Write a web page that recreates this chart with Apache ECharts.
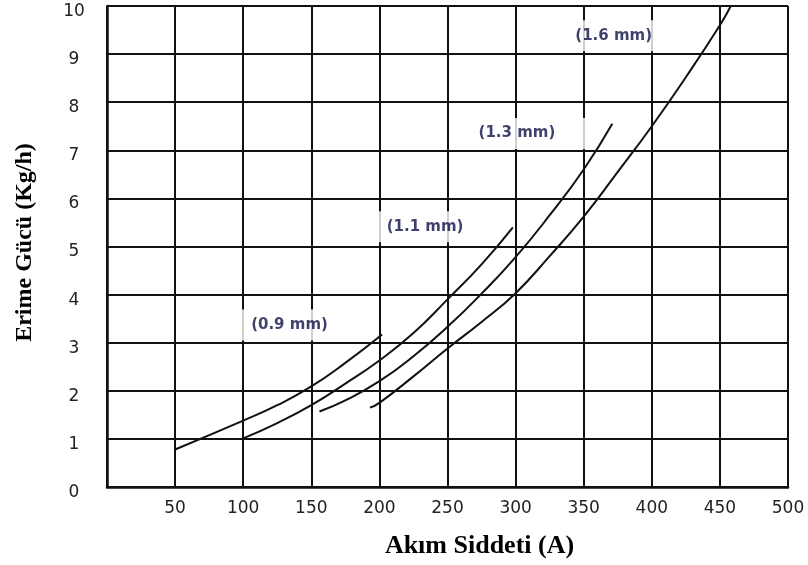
<!DOCTYPE html>
<html>
<head>
<meta charset="utf-8">
<script src="https://cdn.jsdelivr.net/npm/echarts@6/dist/echarts.min.js"></script>
<style>html,body{margin:0;padding:0;background:#fff}#c{width:808px;height:565px}</style>
</head>
<body>
<div id="c"></div>
<script>
// Curve data: [current (A), melting rate (kg/h)]
const wire09 = [[50,0.78],[100,1.38],[125,1.7],[150,2.09],[175,2.58],[202,3.17]];
const wire11 = [[100,1.01],[125,1.33],[150,1.7],[175,2.15],[200,2.63],[225,3.2],[250,3.9],[275,4.63],[298,5.4]];
const wire13 = [[156,1.57],[175,1.8],[200,2.2],[225,2.72],[250,3.33],[275,4.02],[300,4.78],[325,5.65],[350,6.6],[371,7.55]];
const wire16 = [[193,1.65],[200,1.75],[225,2.3],[250,2.88],[275,3.43],[300,4.03],[325,4.8],[350,5.62],[375,6.55],[400,7.5],[425,8.52],[450,9.6],[458,10.0]];

// Curve names and where their labels sit (data coordinates)
const labelTexts = ['(0.9 mm)','(1.1 mm)','(1.3 mm)','(1.6 mm)'];
const labelX = [134, 233.5, 301, 372];
const labelY = [3.37, 5.41, 7.35, 9.38];

const xMin = 0, xMax = 500, xStep = 50;
const yMin = 0, yMax = 10, yStep = 1;
const xTitle = 'Akım Siddeti (A)';
const yTitle = 'Erime Gücü (Kg/h)';

const chart = echarts.init(document.getElementById('c'), null, {renderer:'canvas'});

const lineStyle = {color:'#111', width:2};
const curves = [wire09, wire11, wire13, wire16].map((d, i) => ({
  type:'line', name: labelTexts[i], data: d, smooth: 0.5, symbol:'none', z: 4,
  lineStyle: lineStyle, silent: true
}));

// the (1.3 mm) box in the reference extends further to the right
const labelItems = labelTexts.map((t, i) => {
  const item = {value:[labelX[i], labelY[i]], name:t};
  if (i === 2) item.label = {padding:[8, 40, 8, 12], offset:[14, 0]};
  return item;
});

const labelSeries = {
  type:'scatter', z: 3, symbolSize: 0, silent:true,
  itemStyle: {color:'#fff'},
  data: labelItems,
  label: {
    show: true, position: 'inside', formatter: p => p.name,
    fontFamily: 'DejaVu Sans', fontWeight: 'bold', fontSize: 15, color: '#101048',
    textBorderWidth: 0, textBorderColor: 'transparent',
    backgroundColor: '#fff', padding: [8, 12, 8, 12]
  }
};

chart.setOption({
  animation: false,
  backgroundColor: '#fff',
  grid: {left: 107, right: 20, top: 6, bottom: 78, containLabel: false},
  xAxis: {
    type:'value', min:xMin, max:xMax, interval:xStep,
    name: xTitle, nameLocation:'middle', nameGap: 46,
    nameTextStyle: {fontFamily:'Liberation Serif', fontWeight:'bold', fontSize:26, color:'#000', padding:[0,0,0,64]},
    axisLine: {show:true, lineStyle:{color:'#111', width:2.5}},
    axisTick: {show:false},
    axisLabel: {margin: 13, fontFamily:'DejaVu Sans', fontSize:17, color:'#222', formatter: v => v === 0 ? '' : String(v)},
    splitLine: {show:true, lineStyle:{color:'#111', width:2}}
  },
  yAxis: {
    type:'value', min:yMin, max:yMax, interval:yStep,
    name: yTitle, nameLocation:'middle', nameGap: 70,
    nameTextStyle: {fontFamily:'Liberation Serif', fontWeight:'bold', fontSize:24, color:'#000', padding:[0,0,0,8]},
    axisLine: {show:true, lineStyle:{color:'#111', width:2.5}},
    axisTick: {show:false},
    axisLabel: {margin: 33, align:'center', verticalAlign:'top', padding:[-3,0,0,0], fontFamily:'DejaVu Sans', fontSize:17, color:'#222'},
    splitLine: {show:true, lineStyle:{color:'#111', width:2}}
  },
  series: [labelSeries].concat(curves)
});
</script>
</body>
</html>
